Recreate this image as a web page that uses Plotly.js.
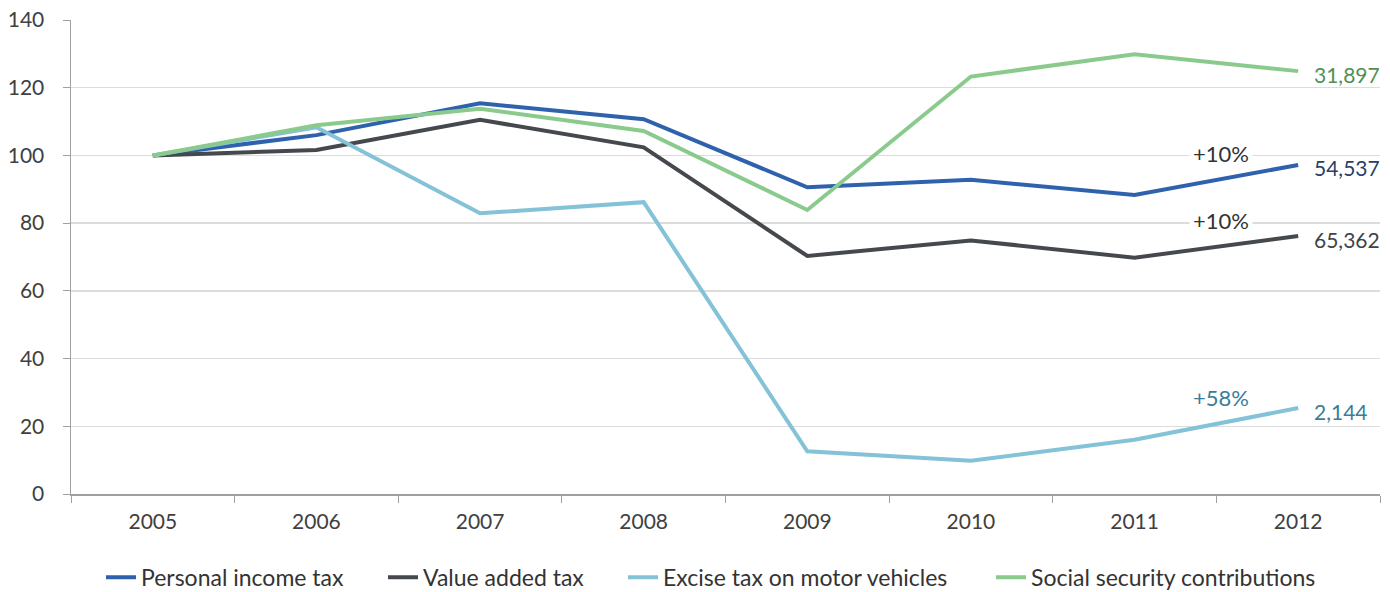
<!DOCTYPE html>
<html>
<head>
<meta charset="utf-8">
<script src="https://cdn.plot.ly/plotly-3.0.1.min.js"></script>
<style>html,body{margin:0;padding:0;background:#fff;}#chart{width:1390px;height:592px;}</style>
</head>
<body>
<div id="chart"></div>
<script>
const years = ["2005","2006","2007","2008","2009","2010","2011","2012"];
const personalIncomeTax = [100, 106.0, 115.4, 110.7, 90.6, 92.8, 88.3, 97.2];
const valueAddedTax = [100, 101.6, 110.5, 102.4, 70.3, 74.9, 69.8, 76.2];
const exciseTaxMotorVehicles = [100, 108.3, 82.9, 86.2, 12.6, 9.8, 16.0, 25.4];
const socialSecurity = [100, 108.9, 113.8, 107.2, 83.9, 123.3, 129.9, 124.9];

const seriesNames = ["Personal income tax","Value added tax","Excise tax on motor vehicles","Social security contributions"];
const endLabels = ["54,537","65,362","2,144","31,897"];
const changeLabels = ["+10%","+10%","+58%",null];

const lineColors = ["#2f62ad","#45494e","#84c2d8","#8acb8d"];
const labelColors = ["#2b3f66","#404346","#3b7d97","#4f9153"];
const changeColors = ["#333333","#333333","#3b7d97",null];

const seriesData = [personalIncomeTax, valueAddedTax, exciseTaxMotorVehicles, socialSecurity];
const FONT = "Lato, 'Open Sans', sans-serif";
const legendIds = ["legend","legend2","legend3","legend4"];
const legendLeft = [101, 383, 623, 991];

const traces = seriesData.map((d,i)=>({
  type:"scatter", mode:"lines", x:years, y:d, name:seriesNames[i], legend:legendIds[i],
  line:{color:lineColors[i], width:4}, hoverinfo:"skip"
}));

const annotations = [];
seriesData.forEach((d,i)=>{
  const n = d.length;
  annotations.push({
    x:n-1, y:d[n-1], xref:"x", yref:"y", text:endLabels[i], showarrow:false,
    xanchor:"left", yanchor:"middle", xshift:14, yshift:-3,
    font:{family:FONT, size:21, color:labelColors[i]}
  });
  if(changeLabels[i]){
    annotations.push({
      x:n-1.5, y:(d[n-2]+d[n-1])/2, xref:"x", yref:"y", text:changeLabels[i], showarrow:false,
      xanchor:"center", yanchor:"middle", xshift:5, yshift:26, bgcolor:"#ffffff", borderpad:3,
      font:{family:FONT, size:22, color:changeColors[i]}
    });
  }
});

const layout = {
  width:1390, height:592,
  margin:{l:71, r:10, t:20, b:98, autoexpand:false},
  paper_bgcolor:"#ffffff", plot_bgcolor:"#ffffff",
  font:{family:FONT, size:21, color:"#404040"},
  showlegend:true,
  xaxis:{type:"category", range:[-0.5,7.5], tickson:"boundaries", ticks:"outside", ticklen:7,
    tickcolor:"#a0a0a0", showline:true, linecolor:"#a0a0a0", linewidth:1.5, showgrid:false,
    zeroline:false, tickfont:{family:FONT, size:21, color:"#404040"}, ticklabelstandoff:8, fixedrange:true},
  yaxis:{range:[0,140], dtick:20, tick0:0, ticks:"outside", ticklen:7, tickcolor:"#a0a0a0",
    showline:true, linecolor:"#a0a0a0", linewidth:1.5, showgrid:true, gridcolor:"#dcdcdc", gridwidth:1.5,
    zeroline:false, tickfont:{family:FONT, size:21, color:"#404040"}, ticklabelstandoff:14, fixedrange:true},
  annotations:annotations
};
legendIds.forEach((id,i)=>{
  layout[id] = {orientation:"h", xref:"container", x:legendLeft[i]/1390, xanchor:"left",
    yref:"container", y:0.025, yanchor:"middle", bgcolor:"rgba(0,0,0,0)",
    font:{family:FONT, size:23, color:"#333333"}};
});

Plotly.newPlot("chart", traces, layout, {displayModeBar:false, staticPlot:true});
</script>
</body>
</html>
